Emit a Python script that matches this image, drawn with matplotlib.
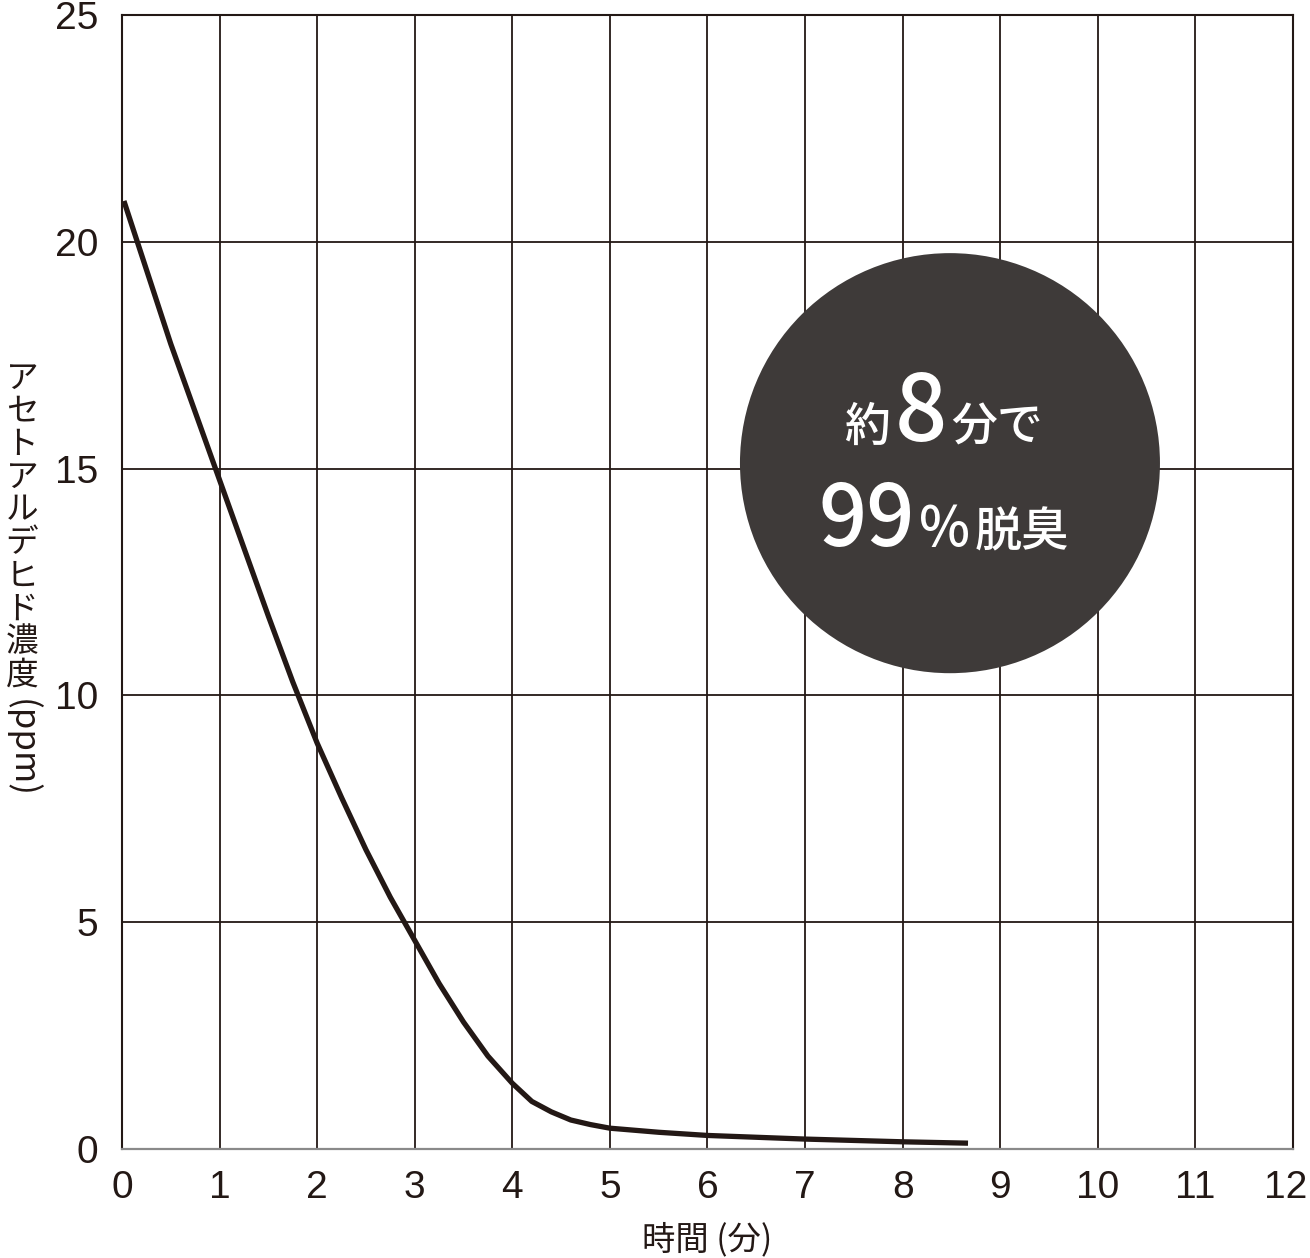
import matplotlib
matplotlib.use("Agg")
import matplotlib.pyplot as plt
import matplotlib.transforms as mtransforms
from matplotlib.patches import Ellipse
from matplotlib.offsetbox import TextArea, HPacker, VPacker, AnnotationBbox

# データ
time_min = [0.02, 0.5, 1.0, 1.5, 1.75, 2.0, 2.25, 2.5, 2.75, 3.0, 3.25, 3.5, 3.75,
            4.0, 4.2, 4.4, 4.6, 4.8, 5.0, 5.5, 6.0, 7.0, 8.0, 8.67]
conc_ppm = [20.9, 17.75, 14.75, 11.75, 10.3, 8.95, 7.75, 6.6, 5.55, 4.6, 3.65, 2.8, 2.05,
            1.45, 1.05, 0.82, 0.64, 0.54, 0.46, 0.37, 0.30, 0.22, 0.16, 0.13]

x_ticks = list(range(0, 13))
y_ticks = [0, 5, 10, 15, 20, 25]

ylabel_chars = ["ア", "セ", "ト", "ア", "ル", "デ", "ヒ", "ド", "濃", "度"]
ylabel_unit = "(ppm)"
xlabel = "時間 (分)"

DARK = "#231815"
CIRCLE = "#3e3a39"
JP = ["Noto Sans CJK JP", "DejaVu Sans"]
NUM = ["Liberation Sans", "DejaVu Sans"]

fig = plt.figure(figsize=(13.1, 12.58), dpi=100)
ax = fig.add_axes([0.0931, 0.0866, 0.8939, 0.9015])

ax.set_xlim(0, 12)
ax.set_ylim(0, 25)
ax.set_xticks(x_ticks)
ax.set_yticks(y_ticks)
ax.tick_params(length=0, labelsize=28, colors=DARK)
ax.tick_params(axis="x", pad=15)
ax.tick_params(axis="y", pad=17)
for lab in ax.get_xticklabels() + ax.get_yticklabels():
    lab.set_family(NUM)
# 右端の「12」が切れないよう少し左へ
last = ax.get_xticklabels()[-1]
last.set_transform(last.get_transform() + mtransforms.ScaledTranslation(-5 / 72, 0, fig.dpi_scale_trans))

ax.set_axisbelow(True)
ax.grid(True, color=DARK, linewidth=1.3)
for side in ["left", "top", "right"]:
    ax.spines[side].set_color(DARK)
    ax.spines[side].set_linewidth(1.5)
ax.spines["bottom"].set_color("#8a8a8a")
ax.spines["bottom"].set_linewidth(1.6)

# 濃度の推移
ax.plot(time_min, conc_ppm, color=DARK, linewidth=3.8, solid_capstyle="butt",
        solid_joinstyle="round", zorder=4)

# 円のバッジ
ax.add_patch(Ellipse((8.485, 15.12), 4.304, 9.26, facecolor=CIRCLE, edgecolor="none", zorder=3))

def ta(s, size):
    return TextArea(s, textprops=dict(color="white", fontsize=size, family=JP, weight="medium"))

row1 = HPacker(children=[ta("約", 33), ta("8", 66), ta("分で", 33)], align="baseline", pad=0, sep=3)
row2 = HPacker(children=[ta("99", 61), ta("%", 39), ta("脱臭", 34)], align="baseline", pad=0, sep=3)
badge = VPacker(children=[row1, row2], align="center", pad=0, sep=12)
ab = AnnotationBbox(badge, (8.42, 15.05), frameon=False, box_alignment=(0.5, 0.5), zorder=5)
ax.add_artist(ab)

# 軸ラベル
ax.set_xlabel(xlabel, fontsize=24, family=JP, color=DARK, labelpad=12)

# 縦書きの y 軸ラベル
for i, ch in enumerate(ylabel_chars):
    ax.annotate(ch, xy=(-0.0854, 0.679), xycoords="axes fraction",
                xytext=(0, -i * 23.7), textcoords="offset points",
                ha="center", va="center", fontsize=23.5, family=JP, color=DARK)
ax.text(-0.0854, 0.353, ylabel_unit, transform=ax.transAxes, rotation=-90,
        ha="center", va="center", fontsize=25, family=JP, color=DARK)

fig.savefig("out.png", dpi=100)
